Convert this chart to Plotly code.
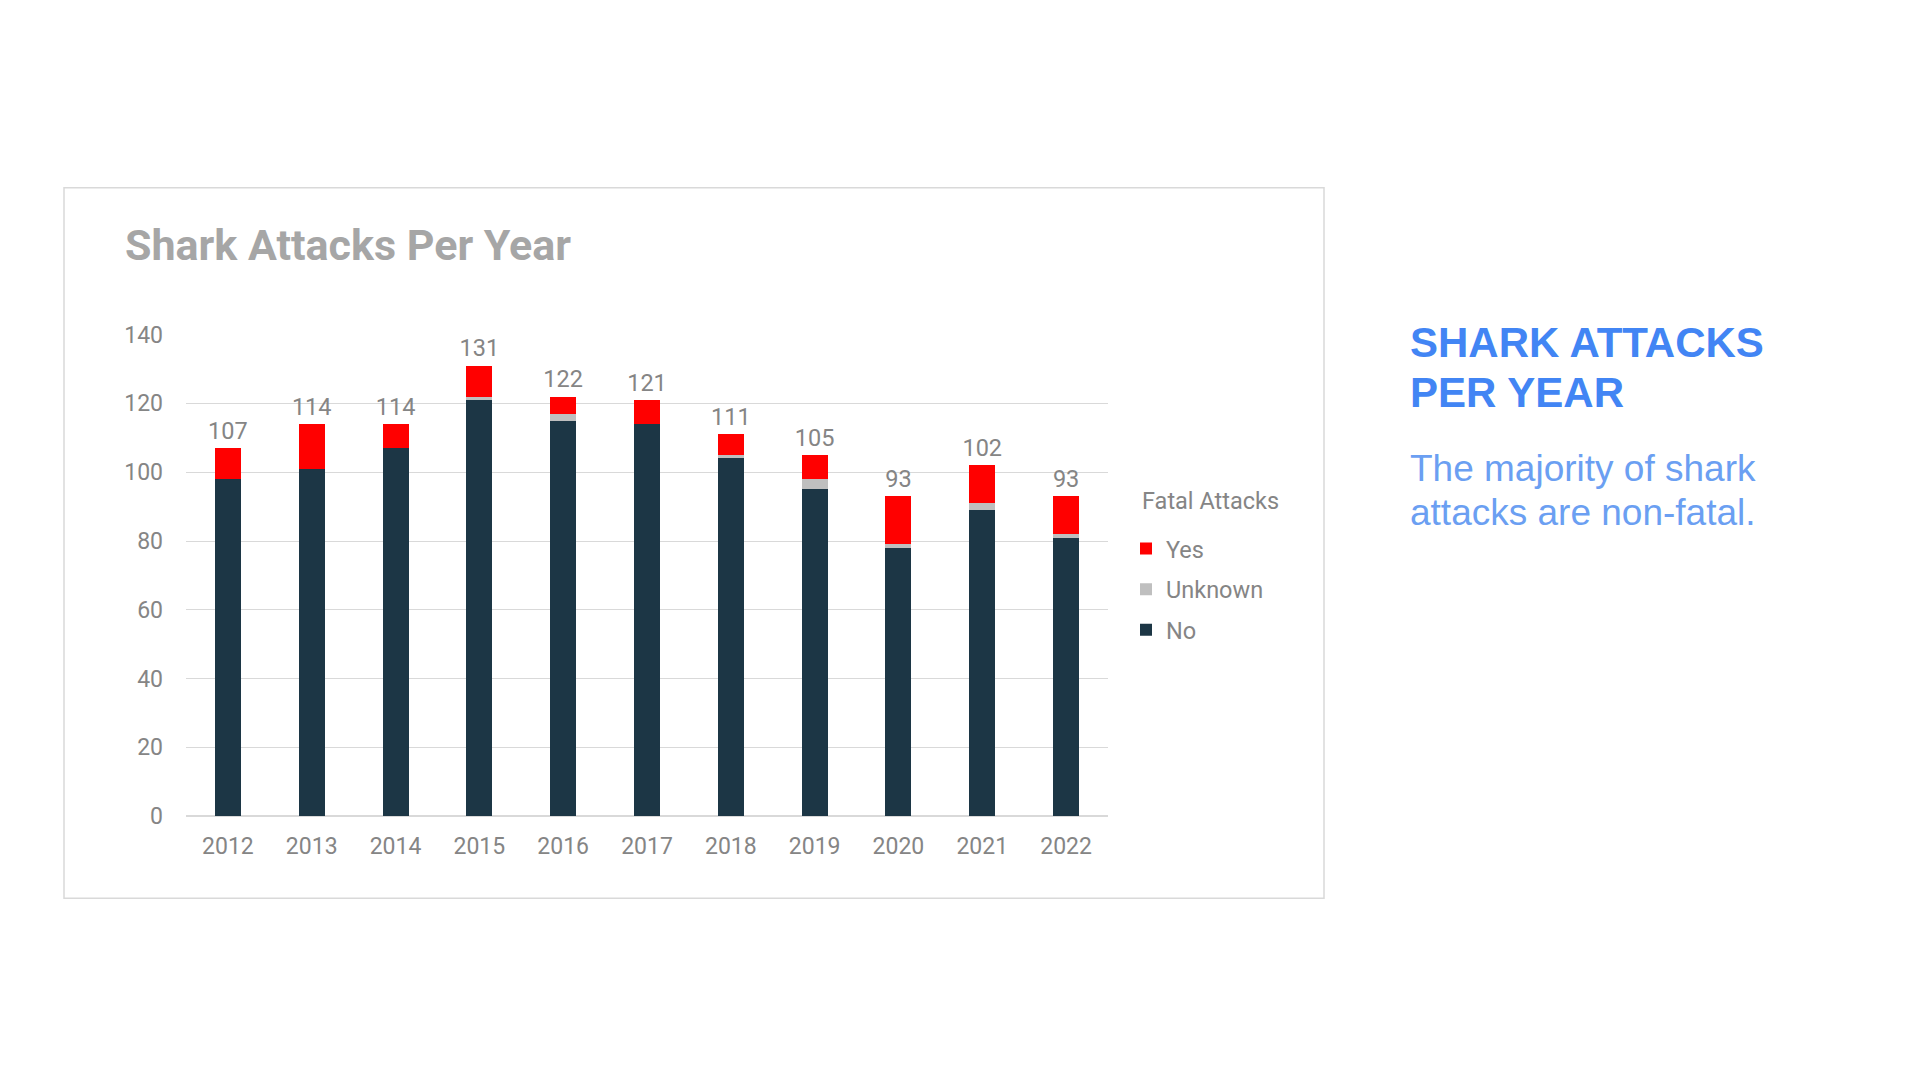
import plotly.graph_objects as go

# Shark attacks per year, split by whether the attack was fatal
anos = ["2012", "2013", "2014", "2015", "2016", "2017", "2018", "2019", "2020", "2021", "2022"]
nao_fatal = [98, 101, 107, 121, 115, 114, 104, 95, 78, 89, 81]
desconhecido = [0, 0, 0, 1, 2, 0, 1, 3, 1, 2, 1]
fatal = [9, 13, 7, 9, 5, 7, 6, 7, 14, 11, 11]
totais = [a + b + c for a, b, c in zip(nao_fatal, desconhecido, fatal)]
y_ticks = [0, 20, 40, 60, 80, 100, 120, 140]

# figura um pouco menor que a janela por causa da margem de 8px do <body>
W, H = 1904, 1064
cinza_texto = "#858585"
fonte = "Roboto"
azul = "#4285f4"
azul_claro = "#6b9ff2"


def px(x):
    return x / W


def py(y):
    return (H - y) / H


fig = go.Figure()
fig.add_trace(go.Bar(x=anos, y=nao_fatal, name="No", marker=dict(color="#1c3645", line=dict(width=0)),
                     legendgroup="no", legendrank=3))
fig.add_trace(go.Bar(x=anos, y=desconhecido, name="Unknown", marker=dict(color="#bfbfbf", line=dict(width=0)),
                     legendgroup="unk", legendrank=2))
fig.add_trace(go.Bar(x=anos, y=fatal, name="Yes", marker=dict(color="#ff0000", line=dict(width=0)),
                     legendgroup="yes", legendrank=1))
# rótulos com o total em cima de cada barra (marcador invisível só para afastar o texto)
fig.add_trace(go.Scatter(x=anos, y=totais, mode="markers+text", text=[str(t) for t in totais],
                         textposition="top center", marker=dict(size=4, color="rgba(0,0,0,0)"),
                         textfont=dict(family=fonte, size=23.5, color=cinza_texto), cliponaxis=False,
                         showlegend=False, hoverinfo="skip"))

fig.update_layout(
    width=W,
    height=H,
    margin=dict(l=0, r=0, t=0, b=0),
    paper_bgcolor="white",
    plot_bgcolor="white",
    barmode="stack",
    bargap=0.69,
    font=dict(family=fonte, color=cinza_texto, size=22),
    xaxis=dict(domain=[px(178), px(1100)], range=[-0.5, 10.5], showgrid=False, showline=False, zeroline=False,
               ticks="", ticklabelstandoff=14, tickfont=dict(size=23, color=cinza_texto)),
    yaxis=dict(domain=[py(815.9), py(321.8)], range=[0, 140], tickvals=y_ticks,
               showgrid=True, gridcolor="#d9d9d9", gridwidth=1, zeroline=True, zerolinecolor="#d9d9d9",
               showline=False, ticks="", ticklabelstandoff=22, tickfont=dict(size=23, color=cinza_texto)),
    legend=dict(
        traceorder="grouped",
        tracegroupgap=7,
        x=px(1118),
        xanchor="left",
        y=py(519),
        yanchor="top",
        font=dict(size=23.5, color=cinza_texto),
        bgcolor="rgba(0,0,0,0)",
    ),
    shapes=[dict(type="rect", xref="paper", yref="paper",
                 x0=px(56), x1=px(1316), y0=py(900), y1=py(171.2),
                 line=dict(color="#d9d9d9", width=1.5), fillcolor="rgba(0,0,0,0)", layer="below")],
    annotations=[
        dict(text="<b>Shark Attacks Per Year</b>", xref="paper", yref="paper",
             x=px(115), y=py(230.2), xanchor="left", yanchor="middle", showarrow=False,
             font=dict(family=fonte, size=43, color="#a6a6a6")),
        dict(text="Fatal Attacks", xref="paper", yref="paper",
             x=px(1132), y=py(492), xanchor="left", yanchor="middle", showarrow=False,
             font=dict(family=fonte, size=23.5, color=cinza_texto)),
        dict(text="<b>SHARK ATTACKS</b>", xref="paper", yref="paper",
             x=px(1400), y=py(329.6), xanchor="left", yanchor="middle", showarrow=False,
             font=dict(family="Liberation Sans", size=42, color=azul)),
        dict(text="<b>PER YEAR</b>", xref="paper", yref="paper",
             x=px(1400), y=py(381.1), xanchor="left", yanchor="middle", showarrow=False,
             font=dict(family="Liberation Sans", size=42, color=azul)),
        dict(text="The majority of shark", xref="paper", yref="paper",
             x=px(1400), y=py(459.0), xanchor="left", yanchor="middle", showarrow=False,
             font=dict(family="Liberation Sans", size=37, color=azul_claro)),
        dict(text="attacks are non-fatal.", xref="paper", yref="paper",
             x=px(1400), y=py(504.1), xanchor="left", yanchor="middle", showarrow=False,
             font=dict(family="Liberation Sans", size=37, color=azul_claro)),
    ],
)

fig.write_html("out.html")
